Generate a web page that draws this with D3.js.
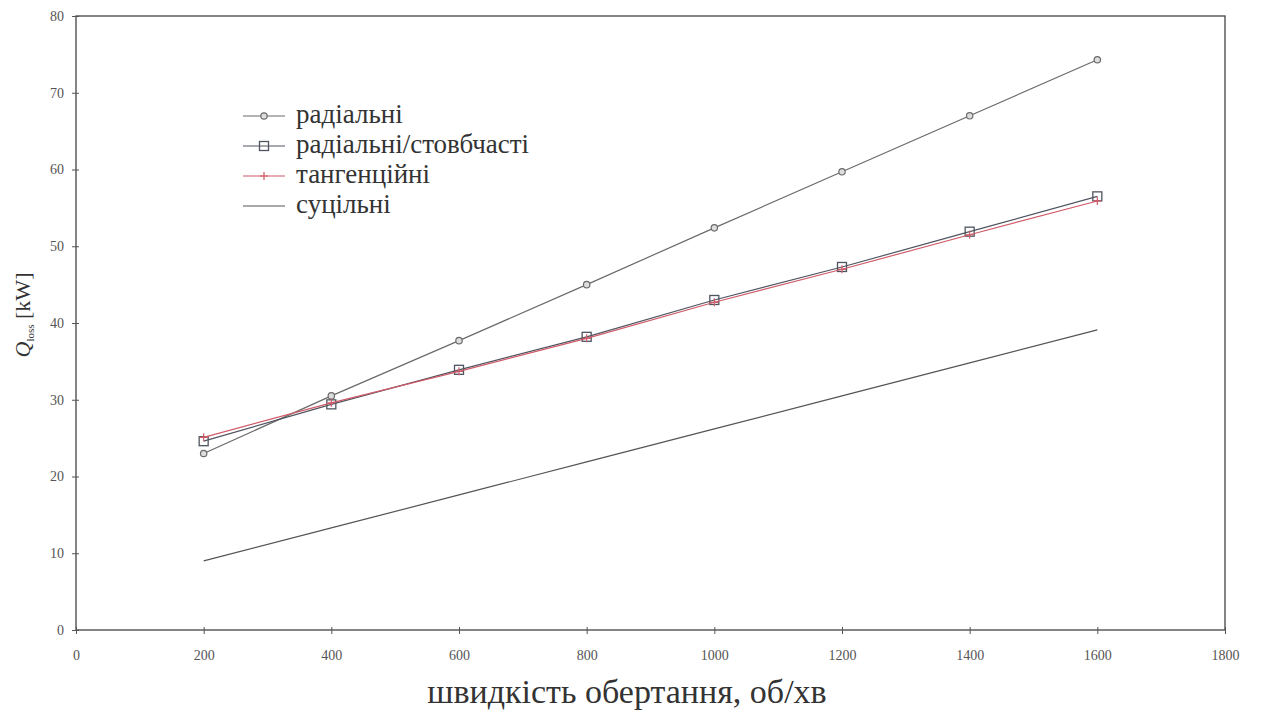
<!DOCTYPE html>
<html>
<head>
<meta charset="utf-8">
<script src="https://cdn.jsdelivr.net/npm/d3@7"></script>
<style>
  body { margin: 0; background: #fff; }
  svg { display: block; }
  svg text { font-family: "Liberation Serif", "Times New Roman", "DejaVu Serif", serif; }
</style>
</head>
<body>
<svg id="chart" width="1261" height="715"></svg>
<script>
// Rotation speed (rpm) at which each configuration was evaluated
const speeds = [200, 400, 600, 800, 1000, 1200, 1400, 1600];

// Heat loss, kW, for each channel configuration
const radial       = [23.0, 30.5, 37.7, 45.0, 52.4, 59.7, 67.0, 74.3];
const radialColumn = [24.6, 29.4, 33.9, 38.2, 43.0, 47.3, 51.9, 56.5];
const tangential   = [25.1, 29.6, 33.7, 38.0, 42.7, 47.0, 51.5, 55.9];
const solid        = [9.0, 13.3, 17.6, 21.9, 26.2, 30.5, 34.8, 39.1];

const xTicks = [0, 200, 400, 600, 800, 1000, 1200, 1400, 1600, 1800];
const yTicks = [0, 10, 20, 30, 40, 50, 60, 70, 80];

const seriesNames = ["радіальні", "радіальні/стовбчасті", "тангенційні", "суцільні"];

const svg = d3.select("#chart");
const plotLeft = 76, plotRight = 1225, plotTop = 16, plotBottom = 630;

const x = d3.scaleLinear().domain([0, 1800]).range([plotLeft, plotRight]);
const y = d3.scaleLinear().domain([0, 80]).range([plotBottom, plotTop]);

// Plot frame
svg.append("rect")
  .attr("x", plotLeft).attr("y", plotTop)
  .attr("width", plotRight - plotLeft).attr("height", plotBottom - plotTop)
  .attr("fill", "none").attr("stroke", "#444").attr("stroke-width", 1.3);

// Bottom axis
const gx = svg.append("g").attr("transform", `translate(0,${plotBottom})`)
  .call(d3.axisBottom(x).tickValues(xTicks).tickSize(4).tickPadding(16).tickFormat(d3.format("d")));
gx.select(".domain").remove();
gx.selectAll(".tick line").attr("y1", -3).attr("stroke", "#555");
gx.selectAll(".tick text").attr("font-family", null).attr("font-size", 14).attr("fill", "#555");

// Left axis
const gy = svg.append("g").attr("transform", `translate(${plotLeft},0)`)
  .call(d3.axisLeft(y).tickValues(yTicks).tickSize(4).tickPadding(8));
gy.select(".domain").remove();
gy.selectAll(".tick line").attr("x1", 3).attr("stroke", "#555");
gy.selectAll(".tick text").attr("font-family", null).attr("font-size", 14).attr("fill", "#555");

// Axis titles
svg.append("text")
  .attr("x", 627).attr("y", 703)
  .attr("text-anchor", "middle")
  .attr("font-size", 34).attr("fill", "#333")
  .text("швидкість обертання, об/хв");

const yt = svg.append("text")
  .attr("transform", `translate(30,${315}) rotate(-90)`)
  .attr("text-anchor", "middle")
  .attr("font-size", 22).attr("fill", "#333");
yt.append("tspan").attr("font-style", "italic").text("Q");
yt.append("tspan").attr("font-size", 11).attr("dy", 4).text("loss");
yt.append("tspan").attr("dy", -4).text(" [kW]");

const line = d3.line().x((d, i) => x(speeds[i])).y(d => y(d));

const series = [
  { name: seriesNames[0], values: radial,       color: "#6a6a6a", marker: "circle" },
  { name: seriesNames[1], values: radialColumn, color: "#4f5560", marker: "square" },
  { name: seriesNames[2], values: tangential,   color: "#d05a68", marker: "plus" },
  { name: seriesNames[3], values: solid,        color: "#555",    marker: null }
];

function drawMarker(g, type, cx, cy, color) {
  if (type === "circle") {
    g.append("circle").attr("cx", cx).attr("cy", cy).attr("r", 3.2)
      .attr("fill", "#ddd").attr("stroke", color).attr("stroke-width", 1.2);
  } else if (type === "square") {
    g.append("rect").attr("x", cx - 4.5).attr("y", cy - 4.5).attr("width", 9).attr("height", 9)
      .attr("fill", "none").attr("stroke", color).attr("stroke-width", 1.3);
  } else if (type === "plus") {
    g.append("path").attr("d", `M${cx - 4},${cy}H${cx + 4}M${cx},${cy - 4}V${cy + 4}`)
      .attr("stroke", color).attr("stroke-width", 1.2);
  }
}

series.forEach(s => {
  svg.append("path").datum(s.values)
    .attr("d", line)
    .attr("fill", "none").attr("stroke", s.color).attr("stroke-width", 1.2);
  const g = svg.append("g");
  if (s.marker) s.values.forEach((v, i) => drawMarker(g, s.marker, x(speeds[i]), y(v), s.color));
});

// Legend
const legend = svg.append("g");
series.forEach((s, i) => {
  const ly = 116 + i * 30;
  legend.append("line").attr("x1", 243).attr("x2", 285).attr("y1", ly).attr("y2", ly)
    .attr("stroke", s.color).attr("stroke-width", 1.2);
  if (s.marker) drawMarker(legend, s.marker, 264, ly, s.color);
  legend.append("text").attr("x", 296).attr("y", ly + 7)
    .attr("font-size", 27).attr("fill", "#333")
    .text(s.name);
});
</script>
</body>
</html>
